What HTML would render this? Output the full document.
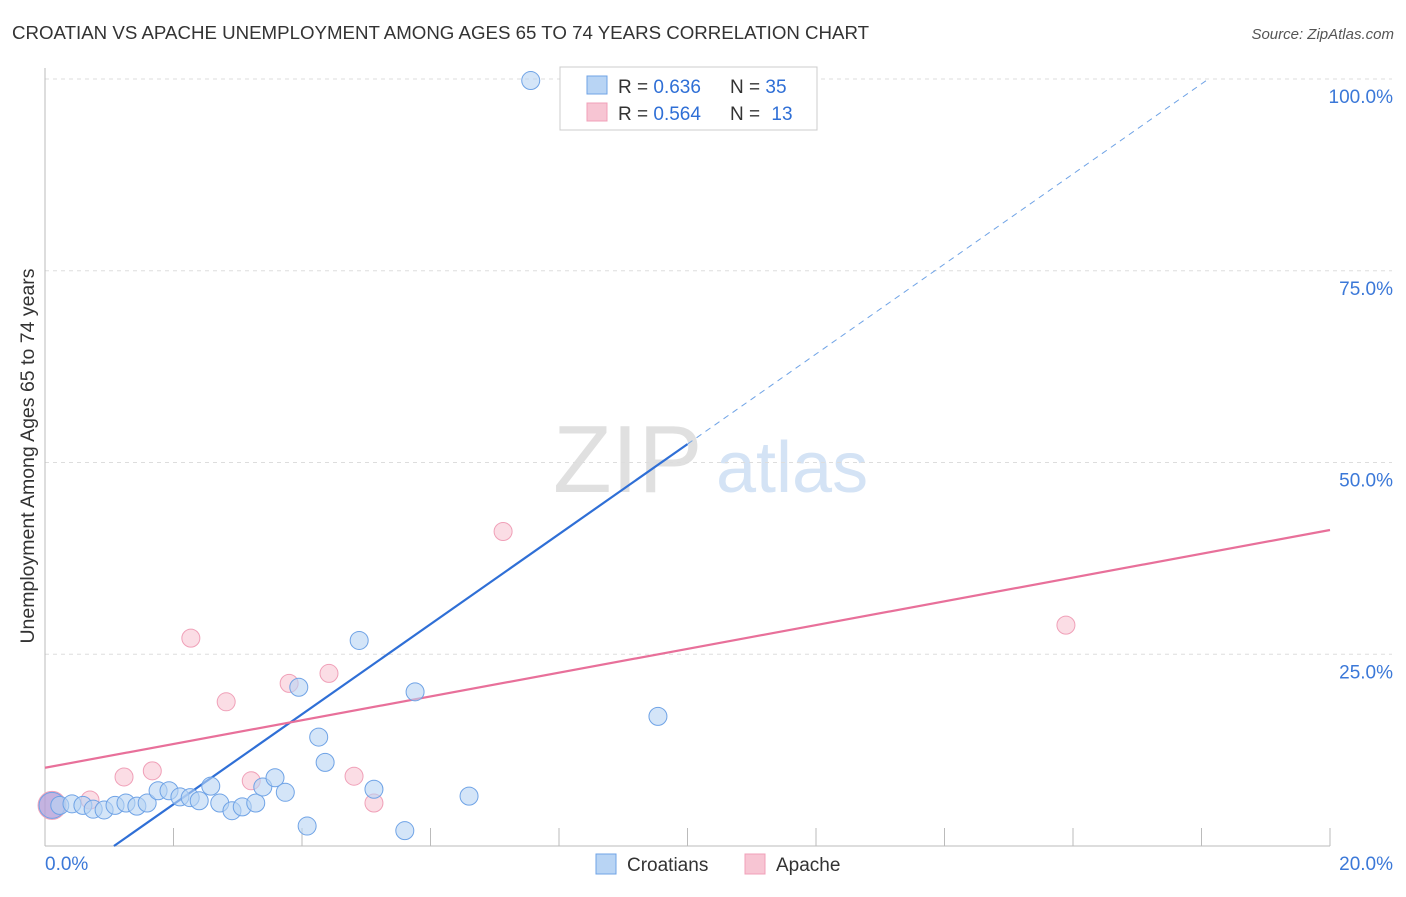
<!DOCTYPE html>
<html><head><meta charset="utf-8"><style>
body{margin:0;background:#fff;font-family:"Liberation Sans",sans-serif;}
svg text{font-family:"Liberation Sans",sans-serif;}
</style></head><body>
<svg id="chart" width="1406" height="892">
<text x="12" y="39" font-size="18.7" fill="#333">CROATIAN VS APACHE UNEMPLOYMENT AMONG AGES 65 TO 74 YEARS CORRELATION CHART</text>
<text x="1394" y="39" font-size="15" fill="#555" text-anchor="end" font-style="italic">Source: ZipAtlas.com</text>
<text x="34" y="456" font-size="19.5" fill="#333" text-anchor="middle" transform="rotate(-90 34 456)">Unemployment Among Ages 65 to 74 years</text>
<g>
<text x="553" y="492" font-size="96" fill="#e0e0e0" font-family="Liberation Serif,serif">ZIP</text>
<text x="716" y="492" font-size="72" fill="#d4e3f5">atlas</text>
</g>
<g id="grid"></g><g id="axes"></g><g id="trends"></g><g id="points"></g>
<g>
<rect x="560" y="67" width="257" height="63" fill="#fff" stroke="#ccc"/>
<rect x="587" y="76" width="20" height="18" fill="#b8d4f4" stroke="#6fa3e6"/>
<text x="618" y="93" font-size="19" fill="#333">R = <tspan fill="#2f6fd6">0.636</tspan></text>
<text x="730" y="93" font-size="19" fill="#333">N = <tspan fill="#2f6fd6">35</tspan></text>
<rect x="587" y="103" width="20" height="18" fill="#f7c5d3" stroke="#f0a0b8"/>
<text x="618" y="120" font-size="19" fill="#333">R = <tspan fill="#2f6fd6">0.564</tspan></text>
<text x="730" y="120" font-size="19" fill="#333">N = <tspan fill="#2f6fd6" dx="6">13</tspan></text>
</g>
<g>
<rect x="596" y="854" width="20" height="20" fill="#b8d4f4" stroke="#6fa3e6"/>
<text x="627" y="871" font-size="19" fill="#333">Croatians</text>
<rect x="745" y="854" width="20" height="20" fill="#f7c5d3" stroke="#f0a0b8"/>
<text x="776" y="871" font-size="19" fill="#333">Apache</text>
</g>
</svg>
<script>
const yTicks=[25,50,75,100];
const yTickLabels=["25.0%","50.0%","75.0%","100.0%"];
const xTicks=[2,4,6,8,10,12,14,16,18,20];
const croatX=[0.11,0.23,0.42,0.59,0.75,0.92,1.09,1.26,1.43,1.59,1.76,1.93,2.10,2.26,2.40,2.58,2.72,2.91,3.07,3.28,3.39,3.58,3.74,3.95,4.08,4.26,4.36,4.89,5.12,5.60,5.76,6.60,9.54,7.56,9.76];
const croatY=[5.3,5.3,5.5,5.3,4.8,4.7,5.3,5.6,5.2,5.6,7.2,7.2,6.4,6.3,5.9,7.8,5.6,4.6,5.1,5.6,7.7,8.9,7.0,20.7,2.6,14.2,10.9,26.8,7.4,2.0,20.1,6.5,16.9,99.8,99.8];
const apacheX=[0.11,0.70,1.23,1.67,2.27,2.82,3.21,3.80,4.42,4.81,5.12,7.13,15.89];
const apacheY=[5.3,6.0,9.0,9.8,27.1,18.8,8.5,21.2,22.5,9.1,5.6,41.0,28.8];
const croatTrend=[5.87,-6.3];   // slope, intercept
const apacheTrend=[1.55,10.2];
const ns="http://www.w3.org/2000/svg";
const X=v=>45+v*1285/20, Y=v=>846-v*7.67;
function mk(tag,attrs,parent){const e=document.createElementNS(ns,tag);for(const k in attrs)e.setAttribute(k,attrs[k]);document.getElementById(parent).appendChild(e);return e;}
yTicks.forEach((t,i)=>{
 const l=mk('line',{x1:45,x2:1392,y1:Y(t),y2:Y(t),stroke:'#ddd','stroke-dasharray':'4,4'},'grid');
 
 
 const tx=mk('text',{x:1393,y:Y(t)+24,'font-size':19,fill:'#3b78d8','text-anchor':'end'},'grid');
 tx.textContent=yTickLabels[i];
 
 
});
mk('line',{x1:45,x2:45,y1:68,y2:846,stroke:'#bbb'},'axes');
mk('line',{x1:45,x2:1330,y1:846,y2:846,stroke:'#bbb'},'axes');
xTicks.forEach(t=>{const l=mk('line',{x1:X(t),x2:X(t),y1:828,y2:846,stroke:'#bbb'},'axes');
 
 });
[['0.0%',45,'start'],['20.0%',1393,'end']].forEach(a=>{const tx=mk('text',{x:a[1],y:870,'font-size':19,fill:'#3b78d8','text-anchor':a[2]},'axes');tx.textContent=a[0];
 
 });
const cx0=-croatTrend[1]/croatTrend[0], cx1=10, cx2=(100-croatTrend[1])/croatTrend[0];
let t1=mk('line',{x1:X(cx0),y1:Y(0),x2:X(cx1),y2:Y(croatTrend[0]*cx1+croatTrend[1]),stroke:'#2f6fd6','stroke-width':2.2},'trends');


let t2=mk('line',{x1:X(cx1),y1:Y(croatTrend[0]*cx1+croatTrend[1]),x2:X(cx2),y2:Y(100),stroke:'#6fa3e6','stroke-width':1,'stroke-dasharray':'6,5'},'trends');


let t3=mk('line',{x1:X(0),y1:Y(apacheTrend[1]),x2:X(20),y2:Y(apacheTrend[0]*20+apacheTrend[1]),stroke:'#e8709a','stroke-width':2.2},'trends');


apacheX.forEach((x,i)=>{const c=mk('circle',{cx:X(x),cy:Y(apacheY[i]),r:i===0?14:9,fill:i===0?'rgba(200,160,210,0.6)':'rgba(247,188,203,0.5)',stroke:'#f0a0b8','stroke-width':1},'points');
 
 });
croatX.forEach((x,i)=>{const c=mk('circle',{cx:X(x),cy:Y(croatY[i]),r:i===0?13:9,fill:i===0?'rgba(170,160,220,0.5)':'rgba(184,212,244,0.6)',stroke:'#6fa3e6','stroke-width':1},'points');
 
 });
</script>
</body></html>
